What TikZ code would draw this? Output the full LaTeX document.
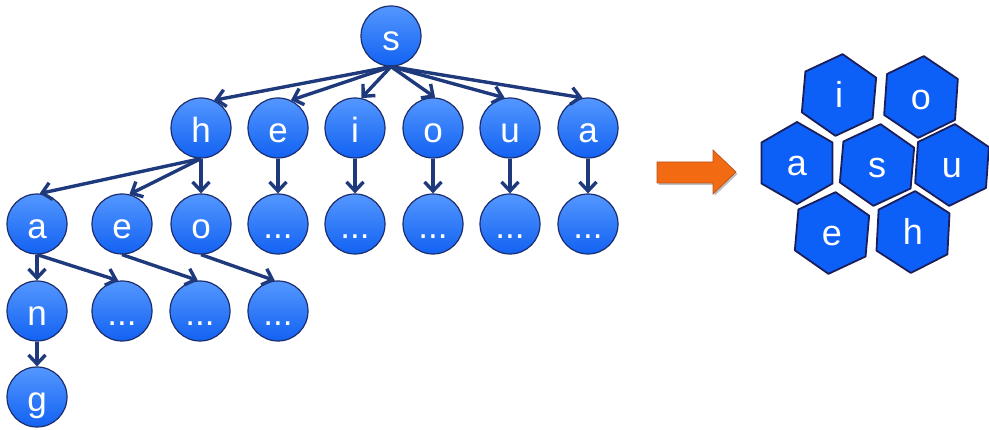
\documentclass[tikz,border=0pt]{standalone}
\usepackage{fontspec}
\setmainfont{Liberation Sans}
\usetikzlibrary{arrows.meta,calc}
\definecolor{ballTop}{HTML}{5497FF}
\definecolor{ballBot}{HTML}{1262F2}
\definecolor{ballEdge}{HTML}{1C2D6E}
\definecolor{arrowNavy}{HTML}{1F3A7C}
\definecolor{hexFill}{HTML}{0D60F7}
\definecolor{hexEdge}{HTML}{1A1E5A}
\definecolor{orangeFill}{HTML}{F26B12}
\definecolor{orangeEdge}{HTML}{B8521E}
\newcommand\hexagonAt[2]{%
  \draw[hexsty, shift={(#1)}, rotate=#2] (-90:41) -- (-30:41) -- (30:41) -- (90:41) -- (150:41) -- (210:41) -- cycle;}
\begin{document}
\begin{tikzpicture}[x=1pt,y=-1pt,
  ball/.style={circle, minimum size=60pt, inner sep=0pt, draw=ballEdge, line width=1.2pt,
    top color=ballTop, bottom color=ballBot, text=white,
    font=\fontsize{35}{35}\selectfont, text height=34pt, text depth=4pt},
  link/.style={draw=arrowNavy, line width=3.4pt, -{Straight Barb[length=9pt,width=17pt]}},
  hexlabel/.style={inner sep=0pt, text=white, font=\fontsize{36}{36}\selectfont,
    text height=32pt, text depth=7pt},
  hexsty/.style={fill=hexFill, draw=hexEdge, line width=1.8pt, line join=round},
]
\useasboundingbox (0,0) rectangle (989,430);

% tree nodes
\node[ball] (s)  at (391,36) {s};
\node[ball] (h)  at (201,128) {h};
\node[ball] (e)  at (278,128) {e};
\node[ball] (i)  at (355,128) {i};
\node[ball] (o)  at (433,128) {o};
\node[ball] (u)  at (510,128) {u};
\node[ball] (a)  at (588,128) {a};

\node[ball] (ha) at (37,224) {a};
\node[ball] (he) at (122,224) {e};
\node[ball] (ho) at (201,224) {o};
\node[ball] (ed) at (278,224) {...};
\node[ball] (id) at (355,224) {...};
\node[ball] (od) at (433,224) {...};
\node[ball] (ud) at (510,224) {...};
\node[ball] (ad) at (588,224) {...};

\node[ball] (han) at (37,311) {n};
\node[ball] (had) at (122,311) {...};
\node[ball] (hed) at (200,311) {...};
\node[ball] (hod) at (278,311) {...};

\node[ball] (hang) at (37,397) {g};

% tree links
\draw[link] (s.south) -- (h.65);
\draw[link] (s.south) -- (e.65);
\draw[link] (s.south) -- (i.78);
\draw[link] (s.south) -- (o.86);
\draw[link] (s.south) -- (u.100);
\draw[link] (s.south) -- (a.100);

\draw[link] (h.south) -- (ha.85);
\draw[link] (h.south) -- (he.76);
\draw[link] (h.south) -- (ho.north);
\draw[link] (e.south) -- (ed.north);
\draw[link] (i.south) -- (id.north);
\draw[link] (o.south) -- (od.north);
\draw[link] (u.south) -- (ud.north);
\draw[link] (a.south) -- (ad.north);

\draw[link] (ha.south) -- (han.north);
\draw[link] (ha.south) -- (had.97);
\draw[link] (he.south) -- (hed.94);
\draw[link] (ho.south) -- (hod.96);
\draw[link] (han.south) -- (hang.north);

% orange arrow
\fill[black!25, shift={(1.5,2)}] (657,162) -- (713,162) -- (713,150) -- (736,172) -- (713,194) -- (713,183) -- (657,183) -- cycle;
\draw[fill=orangeFill, draw=orangeEdge, line width=0.7pt, line join=miter] (657,162) -- (713,162) -- (713,150) -- (736,172) -- (713,194) -- (713,183) -- (657,183) -- cycle;

% hexagons
\coordinate (ci) at (839,95);
\coordinate (co) at (921,97);
\coordinate (ca) at (797,163);
\coordinate (cs) at (877,165);
\coordinate (cu) at (952,165);
\coordinate (ce) at (832,233);
\coordinate (ch) at (913,232);
\hexagonAt{ci}{-5}
\hexagonAt{co}{-4}
\hexagonAt{ca}{0}
\hexagonAt{cs}{-5}
\hexagonAt{cu}{-4}
\hexagonAt{ce}{-5}
\hexagonAt{ch}{-3}
\node[hexlabel] (xi) at (ci) {i};
\node[hexlabel] (xo) at (co) {o};
\node[hexlabel] (xa) at (ca) {a};
\node[hexlabel] (xs) at (cs) {s};
\node[hexlabel] (xu) at (cu) {u};
\node[hexlabel] (xe) at (ce) {e};
\node[hexlabel] (xh) at (ch) {h};
\end{tikzpicture}
\end{document}
